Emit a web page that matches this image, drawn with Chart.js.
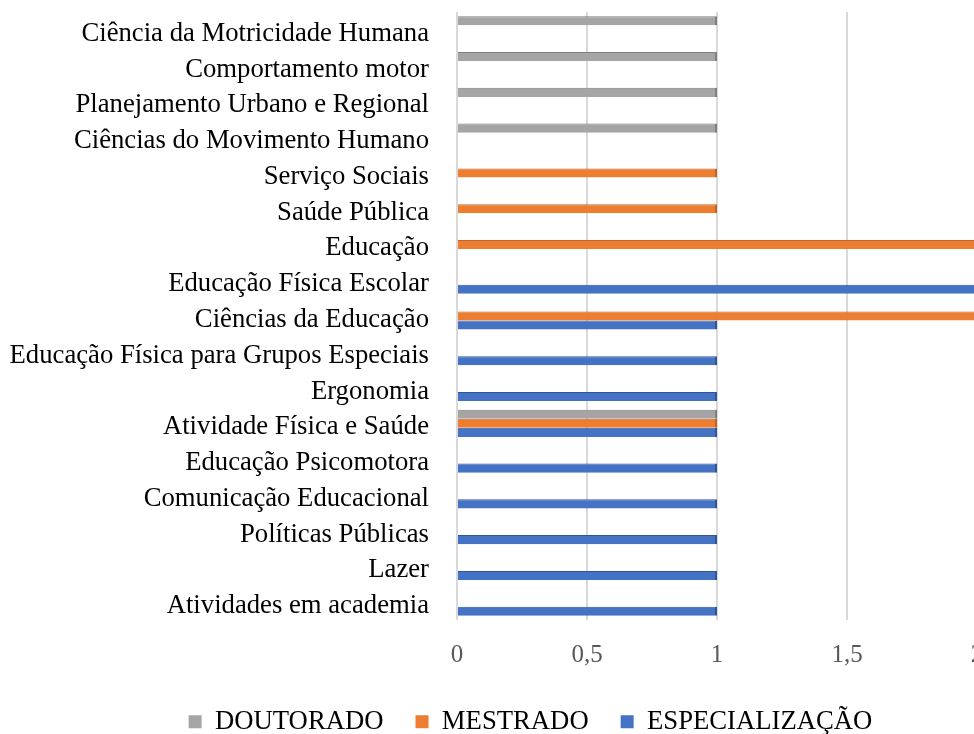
<!DOCTYPE html>
<html>
<head>
<meta charset="utf-8">
<script src="https://cdn.jsdelivr.net/npm/chart.js@4"></script>
<style>
  html, body { margin: 0; padding: 0; background: #fff; overflow: hidden; }
  #wrap { width: 1060px; height: 745px; }
</style>
</head>
<body>
<div id="wrap"><canvas id="areaChart"></canvas></div>
<script>
// categorias (de cima para baixo)
const categorias = [
  "Ciência da Motricidade Humana",
  "Comportamento motor",
  "Planejamento Urbano e Regional",
  "Ciências do Movimento Humano",
  "Serviço Sociais",
  "Saúde Pública",
  "Educação",
  "Educação Física Escolar",
  "Ciências da Educação",
  "Educação Física para Grupos Especiais",
  "Ergonomia",
  "Atividade Física e Saúde",
  "Educação Psicomotora",
  "Comunicação Educacional",
  "Políticas Públicas",
  "Lazer",
  "Atividades em academia",
];

// valores por série (null = sem barra)
const doutorado = [1, 1, 1, 1, null, null, null, null, null, null, null, 1, null, null, null, null, null];
const mestrado = [null, null, null, null, 1, 1, 2, null, 2, null, null, 1, null, null, null, null, null];
const especializacao = [null, null, null, null, null, null, null, 2, 1, 1, 1, 1, 1, 1, 1, 1, 1];

const ticksX = [0, 0.5, 1, 1.5, 2];

const fonte = "'Liberation Serif', 'Times New Roman', serif";

// empurra a legenda um pouco para a direita (centro igual ao original)
const legendShift = {
  id: "legendShift",
  afterLayout(chart) {
    const lg = chart.legend;
    if (!lg) return;
    lg.left += 42;
    lg.right += 42;
  },
};

document.addEventListener("DOMContentLoaded", function () {
  const config = {
    type: "bar",
    data: {
      labels: categorias,
      datasets: [
        {
          label: "DOUTORADO",
          data: doutorado,
          backgroundColor: "#A5A5A5",
          borderColor: "#7f7f7f",
          borderWidth: { top: 1, right: 2, bottom: 0, left: 0 },
        },
        {
          label: "MESTRADO",
          data: mestrado,
          backgroundColor: "#ED7D31",
          borderColor: "#c0652a",
          borderWidth: { top: 1, right: 2, bottom: 0, left: 0 },
        },
        {
          label: "ESPECIALIZAÇÃO",
          data: especializacao,
          backgroundColor: "#4472C4",
          borderColor: "#2f5597",
          borderWidth: { top: 1, right: 2, bottom: 0, left: 0 },
        },
      ],
    },
    options: {
      indexAxis: "y",
      responsive: true,
      maintainAspectRatio: false,
      animation: false,
      layout: {
        padding: { top: 12, right: 83, bottom: 0, left: 0 },
      },
      datasets: {
        bar: {
          categoryPercentage: 0.76,
          barPercentage: 1,
        },
      },
      scales: {
        x: {
          min: 0,
          max: 2,
          afterBuildTicks: (scale) => {
            scale.ticks = ticksX.map((v) => ({ value: v }));
          },
          afterFit: (scale) => {
            scale.height = 56.3;
          },
          grid: {
            color: "#d9d9d9",
            lineWidth: 2,
            drawTicks: false,
          },
          border: { display: false },
          ticks: {
            padding: 20,
            color: "#595959",
            font: { family: fonte, size: 25 },
            callback: (v) => String(v).replace(".", ","),
          },
        },
        y: {
          grid: { display: false, drawTicks: false },
          border: { display: false },
          afterFit: (scale) => {
            // largura fixa do eixo e sem folga extra em cima/baixo
            scale.width = 457;
            scale.paddingTop = 0;
            scale.paddingBottom = 0;
          },
          ticks: {
            padding: 28,
            labelOffset: 4,
            color: "#000",
            font: { family: fonte, size: 26.7 },
          },
        },
      },
      plugins: {
        legend: {
          position: "bottom",
          labels: {
            boxWidth: 13,
            boxHeight: 13,
            padding: 32,
            color: "#000",
            font: { family: fonte, size: 26.7 },
            generateLabels: (chart) =>
              Chart.defaults.plugins.legend.labels
                .generateLabels(chart)
                .map((item) => ({ ...item, lineWidth: 0 })),
          },
        },
        tooltip: { enabled: false },
      },
    },
    plugins: [legendShift],
  };

  new Chart(document.getElementById("areaChart"), config);
});
</script>
</body>
</html>
